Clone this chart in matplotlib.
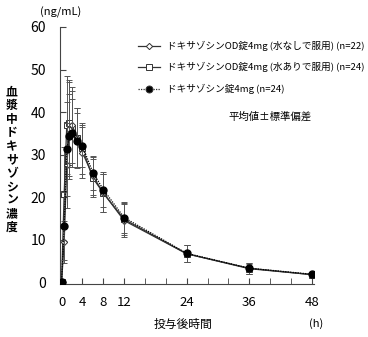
import matplotlib
matplotlib.use("Agg")
import matplotlib.pyplot as plt
from matplotlib.lines import Line2D

plt.rcParams['font.family'] = ['Noto Sans CJK JP', 'DejaVu Sans']

times = [0, 0.5, 1, 1.5, 2, 3, 4, 6, 8, 12, 24, 36, 48]
od_nowater = [0, 9.5, 27.5, 36.0, 37.0, 34.0, 30.5, 25.0, 21.0, 14.5, 6.7, 3.3, 1.8]
od_nowater_sd = [0, 5.0, 10.0, 11.0, 9.0, 7.0, 6.0, 4.5, 4.5, 3.8, 2.0, 1.3, 0.6]
od_water = [0, 20.8, 37.0, 37.5, 36.0, 34.0, 31.5, 24.5, 21.0, 14.8, 6.7, 3.2, 1.8]
od_water_sd = [0, 11.0, 11.5, 10.0, 9.0, 7.0, 6.0, 4.5, 4.5, 3.8, 2.0, 1.2, 0.6]
tablet = [0, 13.2, 31.3, 34.3, 35.0, 33.3, 32.0, 25.8, 21.8, 15.2, 6.8, 3.3, 1.9]
tablet_sd = [0, 8.0, 11.0, 10.0, 8.0, 6.5, 5.0, 4.0, 4.2, 3.6, 2.0, 1.3, 0.6]

labels = ["ドキサゾシンOD錠4mg (水なしで服用) (n=22)",
          "ドキサゾシンOD錠4mg (水ありで服用) (n=24)",
          "ドキサゾシン錠4mg (n=24)"]
xticks = [0, 4, 8, 12, 24, 36, 48]
yticks = [0, 10, 20, 30, 40, 50, 60]

fig = plt.figure(figsize=(3.68, 3.37), dpi=100)
ax = fig.add_axes([60/368, 1-284/337, (313.5-60)/368, (284-27)/337])

ek = dict(ecolor='#555555', elinewidth=0.7, capsize=2.5, capthick=0.7)
ax.errorbar(times, od_water, yerr=od_water_sd, color='#333333', lw=0.9,
            marker='s', ms=5, mfc='white', mec='#333333', mew=0.7, zorder=2, **ek)
ax.errorbar(times, od_nowater, yerr=od_nowater_sd, color='#333333', lw=0.9,
            marker='D', ms=3.2, mfc='white', mec='#333333', mew=0.7, zorder=3, **ek)
ax.errorbar(times, tablet, yerr=tablet_sd, color='black', lw=0.9, ls=(0, (1, 1)),
            marker='o', ms=5, mfc='black', mec='black', zorder=4, **ek)

ax.set_xticks(range(0, 49, 4), minor=True)
ax.set_xticks(xticks)
ax.set_xticklabels([str(v) for v in xticks], fontsize=9.5)
ax.set_yticks(yticks)
ax.set_yticklabels([str(v) for v in yticks], fontsize=10)
for s in ['top', 'right']:
    ax.spines[s].set_visible(False)
ax.spines['left'].set_color('#444444')
ax.spines['bottom'].set_color('#444444')
ax.tick_params(axis='x', which='both', direction='in', length=4, pad=9, color='#444444')
ax.tick_params(axis='y', which='both', direction='in', length=4, pad=10, color='#444444')
ax.set_xlim(-0.3, 48.3)
ax.set_ylim(-0.4, 60)

fig.text(40/368, 1-12/337, "(ng/mL)", fontsize=8, ha='left', va='center')
fig.text(183/368, 1-324/337, "投与後時間", fontsize=8.5, ha='center', va='center')
fig.text(316/368, 1-324/337, "(h)", fontsize=8, ha='center', va='center')
fig.text(12/368, 1-160/337, "\n".join("血漿中ドキサゾシン濃度"), fontsize=8.5,
         ha='center', va='center', linespacing=1.05, fontweight='bold')

# legend drawn manually
ys = [46, 67, 89]
styles = [dict(marker='D', ms=3.2, mfc='white', ls='-'),
          dict(marker='s', ms=5, mfc='white', ls='-'),
          dict(marker='o', ms=5, mfc='black', ls=(0, (1, 1)))]
for y, st, lab in zip(ys, styles, labels):
    yy = 1 - y/337
    fig.add_artist(Line2D([138/368, 160/368], [yy, yy], color='#333333', lw=0.9,
                          ls=st['ls'], transform=fig.transFigure))
    fig.add_artist(Line2D([149/368], [yy], marker=st['marker'], ms=st['ms'],
                          mfc=st['mfc'], mec='#333333', mew=0.7, ls='none',
                          transform=fig.transFigure))
    fig.text(167/368, yy, lab, fontsize=6.9, ha='left', va='center')
fig.text(270/368, 1-117/337, "平均値±標準偏差", fontsize=7.5, ha='center', va='center')

fig.savefig("out.png", dpi=100)
